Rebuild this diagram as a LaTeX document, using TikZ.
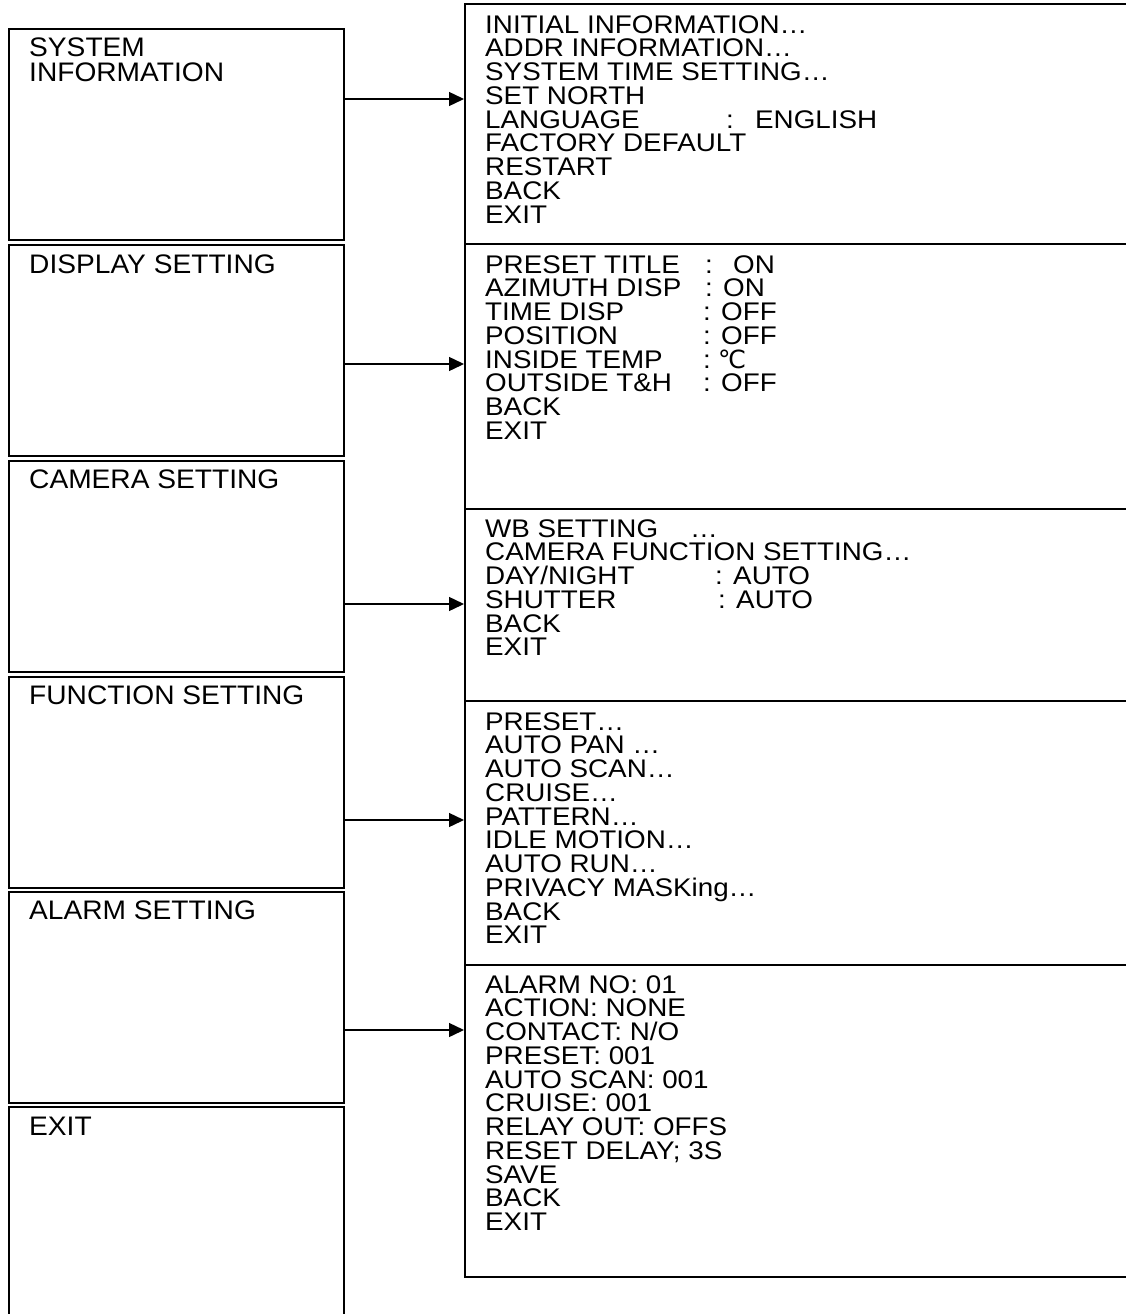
\documentclass[tikz,border=0pt]{standalone}
\usepackage{fontspec}
\setmainfont{Liberation Sans}
\newfontfamily\widefont[FakeStretch=1.09]{Liberation Sans}
\newfontfamily\leftfont[FakeStretch=1.05]{Liberation Sans}
\newfontfamily\symfont{DejaVu Sans}
\usetikzlibrary{arrows.meta}
\begin{document}
\begin{tikzpicture}[x=1pt,y=-1pt,
  leftbox/.style={draw, rectangle, line width=1.8pt, minimum width=335pt, minimum height=211pt, inner sep=0pt, anchor=north west},
  rightbox/.style={draw, rectangle, line width=1.8pt, minimum width=700pt, inner sep=0pt, anchor=north west},
  lefttext/.style={anchor=north west, inner sep=0pt, align=left, font={\leftfont\fontsize{26.8}{25}\selectfont}},
  righttext/.style={anchor=north west, inner sep=0pt, align=left, font={\widefont\fontsize{25.5}{23.75}\selectfont\lineskiplimit=-20pt}},
  arr/.style={line width=1.4pt, -{Triangle[length=15pt,width=14pt]}}
]
\useasboundingbox (0,0) rectangle (1126,1314);
\clip (0,0) rectangle (1126,1314);

% left menu boxes
\node[leftbox] (s1) at (8,28) {};
\node[leftbox] (s2) at (8,244) {};
\node[leftbox] (s3) at (8,460) {};
\node[leftbox] (s4) at (8,676) {};
\node[leftbox] (s5) at (8,891) {};
\node[leftbox, minimum height=240pt] (s6) at (8,1106) {};

\node[lefttext] (l1) at (29,38) {SYSTEM\\INFORMATION};
\node[lefttext] (l2) at (29,255) {DISPLAY SETTING};
\node[lefttext] (l3) at (29,470) {CAMERA SETTING};
\node[lefttext] (l4) at (29,686) {FUNCTION SETTING};
\node[lefttext] (l5) at (29,901) {ALARM SETTING};
\node[lefttext] (l6) at (29,1117) {EXIT};

% right submenu boxes
\node[rightbox, minimum height=240pt] (r1) at (464,3) {};
\node[rightbox, minimum height=265pt] (r2) at (464,243) {};
\node[rightbox, minimum height=192pt] (r3) at (464,508) {};
\node[rightbox, minimum height=264pt] (r4) at (464,700) {};
\node[rightbox, minimum height=312pt] (r5) at (464,964) {};

\node[righttext] (m1) at (485,15) {INITIAL INFORMATION…\\
ADDR INFORMATION…\\
SYSTEM TIME SETTING…\\
SET NORTH\\
\makebox[241pt][l]{LANGUAGE}\makebox[29pt][l]{:}ENGLISH\\
FACTORY DEFAULT\\
RESTART\\
BACK\\
EXIT};

\node[righttext] (m2) at (485,255) {\makebox[220pt][l]{PRESET TITLE}\makebox[28pt][l]{:}ON\\
\makebox[220pt][l]{AZIMUTH DISP}: ON\\
\makebox[218pt][l]{TIME DISP}: OFF\\
\makebox[218pt][l]{POSITION}: OFF\\
\makebox[218pt][l]{INSIDE TEMP}\makebox[15pt][l]{:}\raisebox{0pt}[17pt][0pt]{\symfont\fontsize{25}{25}\selectfont ℃}\\
\makebox[218pt][l]{OUTSIDE T\&H}: OFF\\
BACK\\
EXIT};

\node[righttext] (m3) at (485,519) {\makebox[205pt][l]{WB SETTING}…\\
CAMERA FUNCTION SETTING…\\
\makebox[230pt][l]{DAY/NIGHT}: AUTO\\
\makebox[233pt][l]{SHUTTER}: AUTO\\
BACK\\
EXIT};

\node[righttext] (m4) at (485,712) {PRESET…\\
AUTO PAN …\\
AUTO SCAN…\\
CRUISE…\\
PATTERN…\\
IDLE MOTION…\\
AUTO RUN…\\
PRIVACY MASKing…\\
BACK\\
EXIT};

\node[righttext] (m5) at (485,975) {ALARM NO: 01\\
ACTION: NONE\\
CONTACT: N/O\\
PRESET: 001\\
AUTO SCAN: 001\\
CRUISE: 001\\
RELAY OUT: OFFS\\
RESET DELAY; 3S\\
SAVE\\
BACK\\
EXIT};

% connector heights
\coordinate (a1) at (0,99);
\coordinate (a2) at (0,364);
\coordinate (a3) at (0,604);
\coordinate (a4) at (0,820);
\coordinate (a5) at (0,1030);

\draw[arr] (s1.east |- a1) -- (r1.west |- a1);
\draw[arr] (s2.east |- a2) -- (r2.west |- a2);
\draw[arr] (s3.east |- a3) -- (r3.west |- a3);
\draw[arr] (s4.east |- a4) -- (r4.west |- a4);
\draw[arr] (s5.east |- a5) -- (r5.west |- a5);
\end{tikzpicture}
\end{document}
